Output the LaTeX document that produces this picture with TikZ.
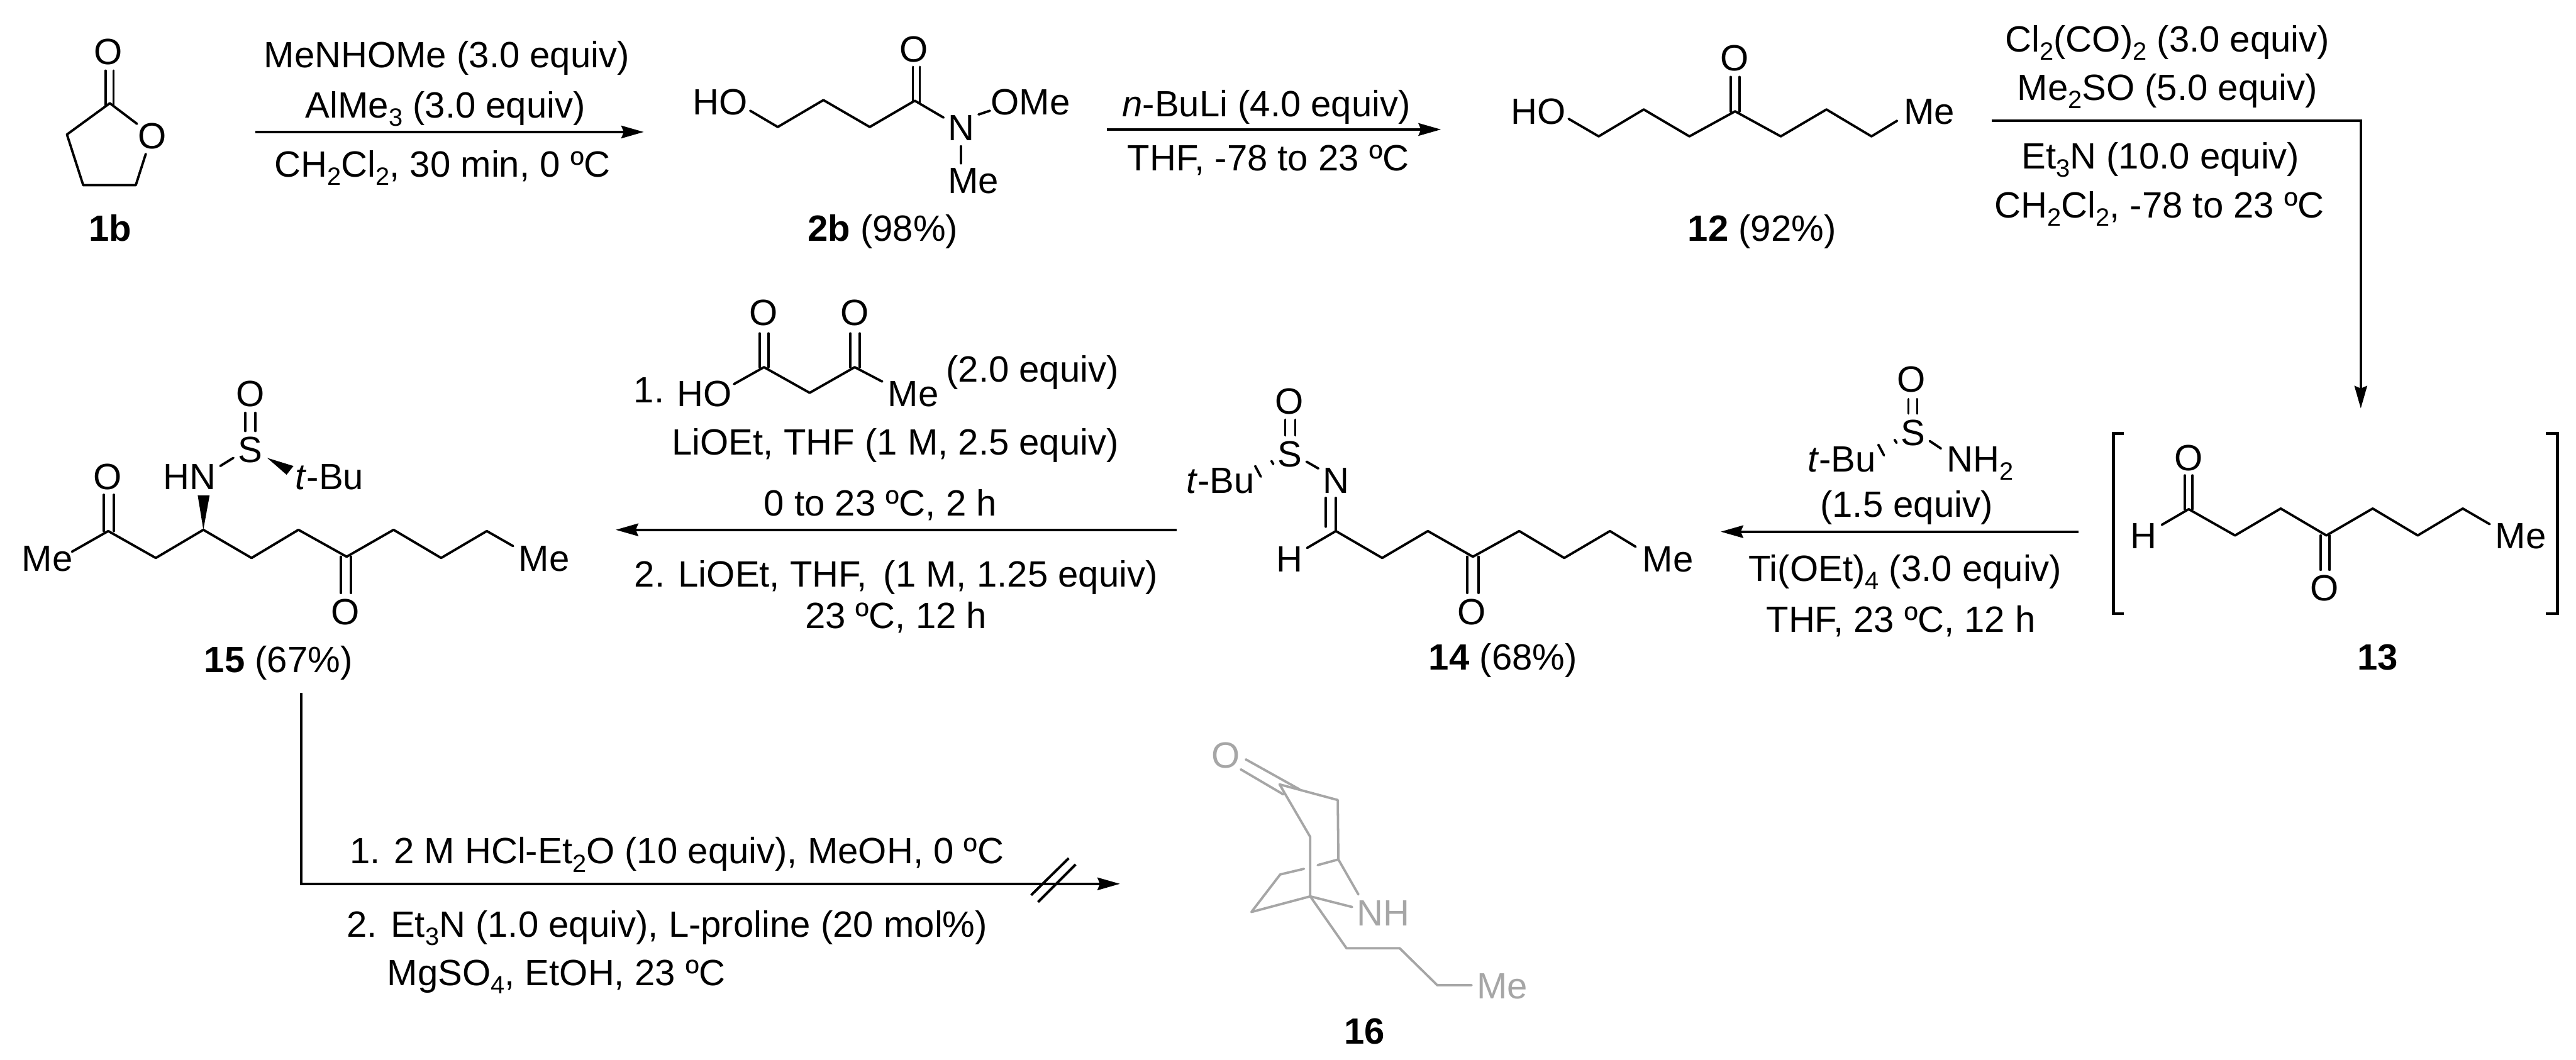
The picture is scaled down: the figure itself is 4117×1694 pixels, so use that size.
\documentclass[tikz,border=0pt]{standalone}
\usepackage{fontspec}
\setmainfont{Liberation Sans}
\usetikzlibrary{arrows.meta}
\definecolor{greybond}{HTML}{A6A6A6}
\newcommand\fs{\fontsize{14.6}{17}\selectfont}
\newcommand\sbs[1]{\raisebox{-3.3pt}{\fontsize{10}{12}\selectfont #1}}
\tikzset{
  every node/.style={font=\fs,inner sep=0pt,outer sep=0pt,text=black},
  bl/.style={anchor=base},
  blw/.style={anchor=base west},
  ble/.style={anchor=base east},
  bond/.style={line width=0.95pt,line cap=round,line join=round},
  wedge/.style={fill=black,draw=none},
  brack/.style={line width=1.2pt,line cap=butt,line join=miter},
  rxn/.style={line width=1pt,line join=miter,-{Stealth[length=9pt,width=5pt,inset=1pt]}},
  grey/.style={text=greybond},
  gbond/.style={line width=0.95pt,line cap=round,line join=round,draw=greybond}
}
\begin{document}
\begin{tikzpicture}[x=0.25pt,y=-0.25pt]
\useasboundingbox (0,0) rectangle (4117,1694);
\fill[white] (0,0) rectangle (4117,1694);

% 1b
\node (oa) at (173,83) {O};
\node (ob) at (243,218) {O};
\draw[bond] (168.5,113) -- (168.5,168) (181.5,113) -- (181.5,168);
\draw[bond] (219,198) -- (175.5,165) -- (107,215) -- (133,296) -- (217,296) -- (233,246);
\node[bl] (l1b) at (176,385) {\textbf{1b}};

% arrow 1
\coordinate (a1s) at (408,211); \coordinate (a1e) at (1029,211);
\draw[rxn] (a1s) -- (a1e);
\node[bl] (r1a) at (714,108) {MeNHOMe (3.0 equiv)};
\node[bl] (r1b) at (712,188) {AlMe\sbs{3} (3.0 equiv)};
\node[bl] (r1c) at (707,283) {CH\sbs{2}Cl\sbs{2}, 30 min, 0 ºC};

% 2b
\node[bl] (ho2) at (1151,183) {HO};
\node (o2) at (1461,79) {O};
\node[bl] (n2) at (1536,225) {N};
\node[ble] (ome2) at (1710,183) {OMe};
\node[blw] (me2) at (1515,309) {Me};
\draw[bond] (1199,177) -- (1243,203) -- (1316,160) -- (1390,203) -- (1462,161) -- (1508,188);
\draw[bond] (1459,107) -- (1459,161) (1470,107) -- (1470,165);
\draw[bond] (1536,234) -- (1536,261);
\draw[bond] (1564,183) -- (1582,177);
\node[bl] (l2b) at (1411,385) {\textbf{2b} (98\%)};

% arrow 2
\coordinate (a2s) at (1769,207); \coordinate (a2e) at (2303,207);
\draw[rxn] (a2s) -- (a2e);
\node[bl] (r2a) at (2024,186) {\textit{n}-BuLi (4.0 equiv)};
\node[bl] (r2b) at (2027,273) {THF, -78 to 23 ºC};

% 12
\node[bl] (ho12) at (2459,198) {HO};
\node[blw] (me12) at (3043,198) {Me};
\node (o12) at (2772,93) {O};
\draw[bond] (2507,190) -- (2555,218) -- (2627,175) -- (2700,218) -- (2773,178) -- (2846,218) -- (2919,175) -- (2991,218) -- (3032,193);
\draw[bond] (2766,123) -- (2766,178) (2780,123) -- (2780,178);
\node[bl] (l12) at (2816,385) {\textbf{12} (92\%)};

% arrow 3
\coordinate (a3s) at (3183,193); \coordinate (a3c) at (3773,193); \coordinate (a3e) at (3773,653);
\draw[rxn] (a3s) -- (a3c) -- (a3e);
\node[bl] (r3a) at (3464,83) {Cl\sbs{2}(CO)\sbs{2} (3.0 equiv)};
\node[bl] (r3b) at (3464,160) {Me\sbs{2}SO (5.0 equiv)};
\node[bl] (r3c) at (3453,270) {Et\sbs{3}N (10.0 equiv)};
\node[bl] (r3d) at (3451,348) {CH\sbs{2}Cl\sbs{2}, -78 to 23 ºC};

% 13
\draw[brack] (3394,693) -- (3378,693) -- (3378,981) -- (3394,981);
\draw[brack] (4069,693) -- (4087,693) -- (4087,981) -- (4069,981);
\node (o13a) at (3498,732) {O};
\node (o13b) at (3715,940) {O};
\node[bl] (h13) at (3426,877) {H};
\node[blw] (me13) at (3988,877) {Me};
\draw[bond] (3492,760) -- (3492,814) (3504,760) -- (3504,814);
\draw[bond] (3455,839) -- (3498,814) -- (3572,856) -- (3645,813) -- (3718,856) -- (3792,813) -- (3864,856) -- (3936,813) -- (3979,838);
\draw[bond] (3709,856) -- (3709,911) (3723,856) -- (3723,911);
\node[bl] (l13) at (3800,1071) {\textbf{13}};

% arrow 4 with sulfinamide
\coordinate (a4s) at (3322,850); \coordinate (a4e) at (2750,850);
\draw[rxn] (a4s) -- (a4e);
\node (o4) at (3055,607) {O};
\node[bl] (s4) at (3057,712) {S};
\node[ble] (tbu4) at (2998,754) {\textit{t}-Bu};
\node[blw] (nh4) at (3111,754) {NH\sbs{2}};
\draw[bond] (3050,638) -- (3050,661) (3064,638) -- (3064,661);
\draw[bond] (3084,705) -- (3102,717);
\draw[bond] (3028,703) -- (3031,708) (3002,711) -- (3011,728);
\node[bl] (r4a) at (3047,827) {(1.5 equiv)};
\node[bl] (r4b) at (3045,929) {Ti(OEt)\sbs{4} (3.0 equiv)};
\node[bl] (r4c) at (3038,1011) {THF, 23 ºC, 12 h};

% 14
\node (o14a) at (2061,642) {O};
\node[bl] (s14) at (2061,746) {S};
\node[ble] (tbu14) at (2005,788) {\textit{t}-Bu};
\node[bl] (n14) at (2135,788) {N};
\node[bl] (h14) at (2061,914) {H};
\node[blw] (me14) at (2625,914) {Me};
\node (o14b) at (2352,978) {O};
\draw[bond] (2054,671) -- (2054,696) (2070,671) -- (2070,696);
\draw[bond] (2088,738) -- (2107,749);
\draw[bond] (2032,737) -- (2035,742) (2006,745) -- (2015,762);
\draw[bond] (2119,796) -- (2119,842) (2135,796) -- (2135,849);
\draw[bond] (2089,876) -- (2135,849) -- (2209,892) -- (2282,849) -- (2354,890) -- (2428,849) -- (2500,892) -- (2573,849) -- (2614,874);
\draw[bond] (2345,890) -- (2345,948) (2363,890) -- (2363,948);
\node[bl] (l14) at (2402,1071) {\textbf{14} (68\%)};

% arrow 5 with acid
\coordinate (a5s) at (1881,847); \coordinate (a5e) at (984,847);
\draw[rxn] (a5s) -- (a5e);
\node[blw] (n1r5) at (1013,644) {1.};
\node[bl] (ho5) at (1126,650) {HO};
\node[blw] (me5) at (1419,650) {Me};
\node (o5a) at (1220,500) {O};
\node (o5b) at (1366,500) {O};
\draw[bond] (1173,614) -- (1221,587) -- (1294,628) -- (1366,587) -- (1410,610);
\draw[bond] (1214,533) -- (1214,587) (1228,533) -- (1228,587);
\draw[bond] (1359,533) -- (1359,587) (1374,533) -- (1374,587);
\node[bl] (r5a) at (1650,611) {(2.0 equiv)};
\node[bl] (r5b) at (1431,727) {LiOEt, THF (1 M, 2.5 equiv)};
\node[bl] (r5c) at (1407,825) {0 to 23 ºC, 2 h};
\node[bl] (r5d) at (1432,938) {2. LiOEt, THF, \,(1 M, 1.25 equiv)};
\node[bl] (r5e) at (1432,1005) {23 ºC, 12 h};

% 15
\node (o15a) at (172,762) {O};
\node[blw] (me15a) at (35,913) {Me};
\node[blw] (me15b) at (829,913) {Me};
\node (o15b) at (552,978) {O};
\node[bl] (hn15) at (303,782) {HN};
\node[bl] (s15) at (400,739) {S};
\node (o15c) at (400,630) {O};
\node[blw] (tbu15) at (472,782) {\textit{t}-Bu};
\draw[bond] (166,791) -- (166,849) (182,791) -- (182,849);
\draw[bond] (115,882) -- (173,849) -- (249,892) -- (325,847) -- (402,892) -- (477,847) -- (554,890) -- (629,847) -- (705,892) -- (778,849) -- (820,873);
\draw[bond] (545,890) -- (545,948) (561,890) -- (561,948);
\fill[wedge] (325,847) -- (316,792) -- (335,792) -- cycle;
\draw[bond] (352,745) -- (373,732);
\draw[bond] (392,660) -- (392,689) (408,660) -- (408,689);
\fill[wedge] (427,732) -- (469,745) -- (458,759) -- cycle;
\node[bl] (l15) at (445,1075) {\textbf{15} (67\%)};

% arrow 6 (no reaction)
\coordinate (a6s) at (481,1108); \coordinate (a6c) at (481,1413); \coordinate (a6e) at (1790,1413);
\draw[rxn] (a6s) -- (a6c) -- (a6e);
\coordinate (xa1) at (1648,1431); \coordinate (xa2) at (1708,1372);
\coordinate (xb1) at (1659,1442); \coordinate (xb2) at (1719,1382);
\draw[line width=1pt] (xa1) -- (xa2) (xb1) -- (xb2);
\node[blw] (r6a) at (559,1381) {1. 2 M HCl-Et\sbs{2}O (10 equiv), MeOH, 0 ºC};
\node[blw] (r6b) at (554,1498) {2. Et\sbs{3}N (1.0 equiv), L-proline (20 mol\%)};
\node[blw] (r6c) at (619,1575) {MgSO\sbs{4}, EtOH, 23 ºC};

% 16
\node[grey] (o16) at (1959,1208) {O};
\node[grey,blw] (nh16) at (2169,1480) {NH};
\node[grey,blw] (me16) at (2360,1597) {Me};
\draw[gbond] (1991,1214) -- (2077,1262) (1983,1230) -- (2051,1270);
\draw[gbond] (2094,1433) -- (2094,1338) -- (2045,1254) -- (2138,1279) -- (2139,1374) -- (2171,1430);
\draw[gbond] (2139,1374) -- (2106,1383);
\draw[gbond] (2084,1389) -- (2046,1398) -- (2000,1458) -- (2094,1433) -- (2161,1450);
\draw[gbond] (2094,1433) -- (2152,1516) -- (2237,1516) -- (2297,1575) -- (2352,1575);
\node[bl] (l16) at (2181,1669) {\textbf{16}};
\end{tikzpicture}
\end{document}
